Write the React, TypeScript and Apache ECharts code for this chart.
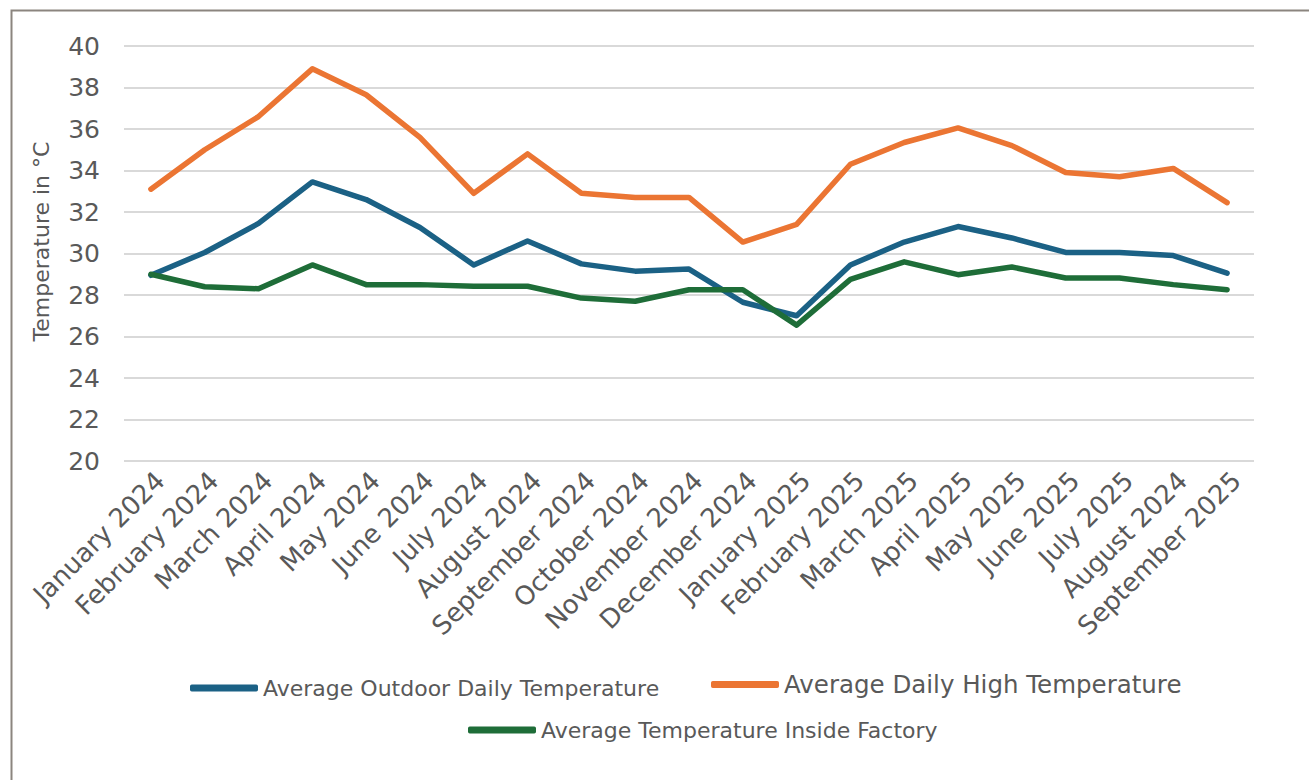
import React, { useEffect, useRef } from "react";
import * as echarts from "echarts";

const categories = [
  "January 2024", "February 2024", "March 2024", "April 2024", "May 2024", "June 2024",
  "July 2024", "August 2024", "September 2024", "October 2024", "November 2024", "December 2024",
  "January 2025", "February 2025", "March 2025", "April 2025", "May 2025", "June 2025",
  "July 2025", "August 2024", "September 2025",
];

const outdoorAvg = [28.95, 30.05, 31.45, 33.45, 32.6, 31.25, 29.45, 30.6, 29.5, 29.15, 29.25, 27.65, 27.0, 29.45, 30.55, 31.3, 30.75, 30.05, 30.05, 29.9, 29.05];
const dailyHigh = [33.1, 35.0, 36.6, 38.9, 37.65, 35.6, 32.9, 34.8, 32.9, 32.7, 32.7, 30.55, 31.4, 34.3, 35.35, 36.05, 35.2, 33.9, 33.7, 34.1, 32.45];
const insideFactory = [29.0, 28.4, 28.3, 29.45, 28.5, 28.5, 28.42, 28.42, 27.85, 27.7, 28.25, 28.25, 26.55, 28.75, 29.6, 28.98, 29.35, 28.82, 28.82, 28.5, 28.25];

const seriesNames = [
  "Average Outdoor Daily Temperature",
  "Average Daily High Temperature",
  "Average Temperature Inside Factory",
];
const colors = ["#1B6185", "#EB7533", "#1E6D38"];
const FONT = "DejaVu Sans";
const TEXT = "#595959";

export default function App() {
  const ref = useRef<HTMLDivElement>(null);
  useEffect(() => {
    if (!ref.current) return;
    const chart = echarts.init(ref.current, null, { renderer: "svg" });
    const mkSeries = (i: number, data: number[]) => ({
      name: seriesNames[i],
      type: "line",
      data,
      symbol: "none",
      color: colors[i],
      lineStyle: { width: 5.5, color: colors[i], cap: "round", join: "round" },
      itemStyle: { color: colors[i] },
    });
    const mkLegend = (i: number, left: number, top: number, size: number) => ({
      data: [seriesNames[i]],
      left,
      top,
      padding: 0,
      icon: "roundRect",
      itemWidth: 68,
      itemHeight: 7,
      textStyle: { fontFamily: FONT, fontSize: size, color: TEXT },
    });
    chart.setOption({
      animation: false,
      backgroundColor: "#ffffff",
      graphic: [
        {
          type: "rect",
          left: 9,
          top: 8,
          shape: { width: 1400, height: 900 },
          style: { fill: "none", stroke: "#8B857F", lineWidth: 2 },
          silent: true,
        },
      ],
      grid: { left: 124, right: 55, top: 46, bottom: 319, containLabel: false },
      legend: [
        mkLegend(0, 190, 677, 22),
        mkLegend(1, 711, 672, 24.5),
        mkLegend(2, 468, 719, 22),
      ],
      xAxis: {
        type: "category",
        data: categories,
        boundaryGap: true,
        axisLine: { show: false },
        axisTick: { show: false },
        axisLabel: {
          rotate: 45,
          interval: 0,
          margin: 6,
          align: "right",
          verticalAlign: "top",
          fontFamily: FONT,
          fontSize: 26,
          color: TEXT,
        },
      },
      yAxis: {
        type: "value",
        min: 20,
        max: 40,
        interval: 2,
        name: "Temperature in °C",
        nameLocation: "middle",
        nameRotate: 90,
        nameGap: 72,
        nameTextStyle: { fontFamily: FONT, fontSize: 22, color: TEXT, padding: [0, 0, 0, 24] },
        axisLine: { show: false },
        axisTick: { show: false },
        axisLabel: { fontFamily: FONT, fontSize: 25, color: TEXT, margin: 24 },
        splitLine: { lineStyle: { color: "#D9D9D9", width: 2 } },
      },
      series: [
        mkSeries(0, outdoorAvg),
        mkSeries(1, dailyHigh),
        mkSeries(2, insideFactory),
      ],
    });
    return () => chart.dispose();
  }, []);
  return (
    <div
      ref={ref}
      style={{ position: "fixed", left: 0, top: 0, width: 1309, height: 780, background: "#fff" }}
    />
  );
}
